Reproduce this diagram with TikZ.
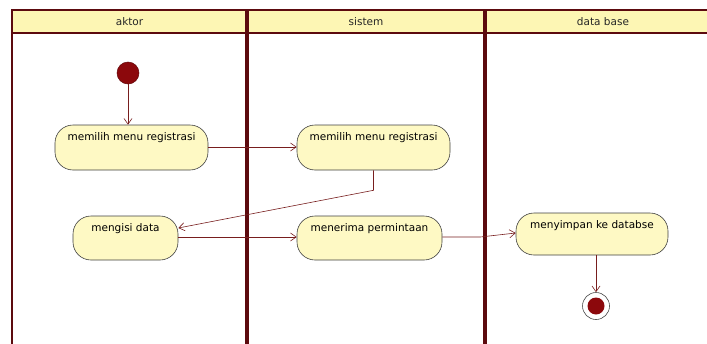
\documentclass[tikz,border=0pt]{standalone}
\usepackage{fontspec}
\setmainfont{DejaVu Sans}
\usetikzlibrary{arrows.meta,calc}
\definecolor{lanecol}{RGB}{92,10,14}
\definecolor{headfill}{RGB}{253,246,180}
\definecolor{actfill}{RGB}{254,249,196}
\definecolor{flowcol}{RGB}{120,30,30}
\definecolor{startcol}{RGB}{140,8,12}
\tikzset{
  act/.style={draw=black!75, line width=0.6pt, fill=actfill, rounded corners=18pt,
    font=\fontsize{10.5}{12}\selectfont, inner xsep=0pt, inner ysep=4pt,
    text height=11pt},
  flow/.style={draw=flowcol, line width=0.6pt, -{Straight Barb[angle=70:7pt]}},
  lane/.style={draw=lanecol, line width=4pt},
  headtext/.style={font=\fontsize{10.5}{12}\selectfont, text=black!85}
}
\begin{document}
\begin{tikzpicture}[x=1pt,y=-1pt]
\useasboundingbox (0,0) rectangle (707,343);
\clip (0,0) rectangle (707,343);
% header band
\fill[headfill] (12,10) rectangle (720,33);
\draw[draw=lanecol, line width=2pt] (12,10) -- (720,10);
\draw[draw=lanecol, line width=2pt] (12,33) -- (720,33);
\draw[draw=lanecol, line width=2.5pt] (12,9) -- (12,350);
\draw[lane] (247,9) -- (247,350);
\draw[lane] (485,9) -- (485,350);
\node[headtext] (h1) at (129.5,21.5) {aktor};
\node[headtext] (h2) at (366,21.5) {sistem};
\node[headtext] (h3) at (603,21.5) {data base};
% start
\node[circle, fill=startcol, draw=startcol!70!black, line width=0.5pt, minimum size=22pt, inner sep=0pt] (start) at (128,73) {};
% actions
\node[act, minimum width=153pt, text depth=26pt] (a1) at (131.5,147.5) {memilih menu registrasi};
\node[act, minimum width=153pt, text depth=26pt] (a2) at (373.5,147.5) {memilih menu registrasi};
\node[act, minimum width=105pt, text depth=25pt] (a3) at (125.5,238) {mengisi data};
\node[act, minimum width=145pt, text depth=25pt] (a4) at (369.5,238) {menerima permintaan};
\node[act, minimum width=152pt, text depth=23pt] (a5) at (592,234) {menyimpan ke databse};
% end
\node[circle, draw=black!70, fill=white, line width=0.6pt, minimum size=27pt, inner sep=0pt] (end) at (596,306) {};
\node[circle, fill=startcol, minimum size=17pt, inner sep=0pt] (endin) at (end.center) {};
% flows
\draw[flow] (start) -- (a1.north -| start);
\draw[flow] (a1.east |- 0,147) -- (a2.west |- 0,147);
\coordinate (k1) at ($(a2.south)+(0,20)$);
\draw[flow] (a2.south) -- (k1) -- ($(a3.east)+(0,-10)$);
\draw[flow] ($(a3.east)+(0,-1)$) -- ($(a4.west)+(0,-1)$);
\coordinate (k2) at ($(a4.east)+(38,-1)$);
\draw[flow] ($(a4.east)+(0,-1)$) -- (k2) -- ($(a5.west)+(0,-1)$);
\draw[flow] (a5.south -| end) -- (end.north);
\end{tikzpicture}
\end{document}
